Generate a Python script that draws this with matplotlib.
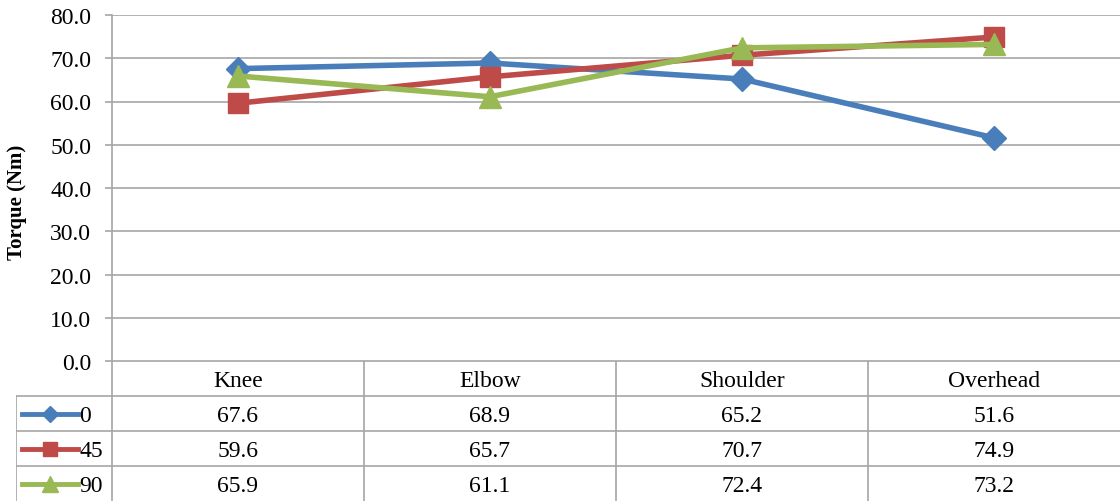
import numpy as np
import matplotlib.pyplot as plt

plt.rcParams['font.family'] = ['Liberation Serif', 'DejaVu Serif']

positions = ['Knee', 'Elbow', 'Shoulder', 'Overhead']
angles = ['0', '45', '90']
torque_0 = [67.6, 68.9, 65.2, 51.6]
torque_45 = [59.6, 65.7, 70.7, 74.9]
torque_90 = [65.9, 61.1, 72.4, 73.2]

series = [torque_0, torque_45, torque_90]
colors = ['#4a7ebb', '#be4b48', '#98b954']
markers = ['D', 's', '^']
msizes = [12, 14, 16]

grid_c = '#a6a6a6'
fs = 17
W, H = 1120, 502
fig = plt.figure(figsize=(W / 100, H / 100), dpi=100)

# chart area
ax = fig.add_axes([112 / W, 1 - 362 / H, 1008 / W, 346 / H])
x = np.arange(len(positions))
for vals, c, m, ms in zip(series, colors, markers, msizes):
    ax.plot(x, vals, color=c, lw=4, marker=m, markersize=ms,
            markeredgecolor=c, solid_joinstyle='round', zorder=3)
ax.set_xlim(-0.5, len(positions) - 0.5)
ax.set_ylim(0, 80)
ax.set_yticks(np.arange(0, 81, 10))
ax.set_yticklabels([f'{v:.1f}' for v in np.arange(0, 81, 10)], fontsize=fs)
ax.set_xticks([])
ax.yaxis.grid(True, color=grid_c, lw=1.2)
ax.set_axisbelow(True)
for s in ['top', 'right', 'bottom']:
    ax.spines[s].set_visible(False)
ax.spines['left'].set_color(grid_c)
ax.spines['left'].set_linewidth(1.2)
ax.tick_params(axis='y', color=grid_c, length=5, width=1.2, pad=10)
ax.set_ylabel('Torque (Nm)', fontsize=15, fontweight='bold')
ax.yaxis.set_label_coords(-0.084, 0.46)

# data table under the chart
px_unit = 1008 / len(positions)
key_w = 96 / px_unit
tab = fig.add_axes([16 / W, 0, 1104 / W, 140 / H])
x0 = -0.5 - key_w
tab.set_xlim(x0, len(positions) - 0.5)
tab.set_ylim(4, 0)
tab.axis('off')

lw_t = 1.2
# horizontal rules
tab.plot([-0.5, len(positions) - 0.5], [0, 0], color=grid_c, lw=lw_t)
for r in [1, 2, 3]:
    tab.plot([x0, len(positions) - 0.5], [r, r], color=grid_c, lw=lw_t)
# vertical rules
tab.plot([x0, x0], [1, 4], color=grid_c, lw=lw_t)
for b in np.arange(-0.5, len(positions) - 0.5, 1.0):
    tab.plot([b, b], [0, 4], color=grid_c, lw=lw_t)

for i, name in enumerate(positions):
    tab.text(i, 0.55, name, ha='center', va='center', fontsize=fs)

for r, (lab, vals, c, m, ms) in enumerate(zip(angles, series, colors, markers, msizes)):
    yc = r + 1.55
    tab.plot([x0 + 0.025, x0 + 0.245], [yc - 0.05, yc - 0.05], color=c, lw=3.5)
    tab.plot([x0 + 0.135], [yc - 0.05], color=c, marker=m, markersize=ms * 0.7,
             markeredgecolor=c)
    tab.text(x0 + 0.25, yc, lab, ha='left', va='center', fontsize=fs)
    for i, v in enumerate(vals):
        tab.text(i, yc, f'{v:.1f}', ha='center', va='center', fontsize=fs)

fig.savefig('out.png', dpi=100)
